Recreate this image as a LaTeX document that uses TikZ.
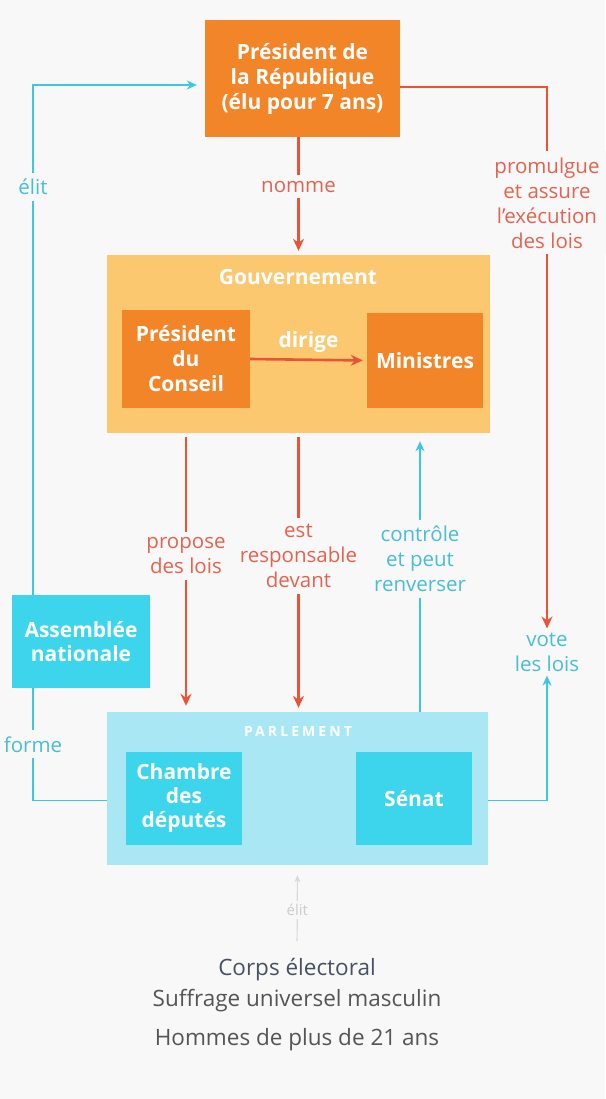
\documentclass[tikz,border=0pt]{standalone}
\usepackage{fontspec}
\setmainfont{Open Sans}
\usepackage{xcolor}
\usetikzlibrary{shapes,arrows.meta,positioning,calc}

\definecolor{pagebg}{RGB}{248,248,248}
\definecolor{orangebox}{RGB}{242,133,40}
\definecolor{govfill}{RGB}{251,200,112}
\definecolor{redline}{RGB}{234,84,54}
\definecolor{redtext}{RGB}{226,100,80}
\definecolor{cyanline}{RGB}{60,200,225}
\definecolor{cyantext}{RGB}{72,190,212}
\definecolor{parlfill}{RGB}{170,231,244}
\definecolor{cyanbox}{RGB}{60,213,235}
\definecolor{graytext}{RGB}{85,85,85}
\definecolor{corpstext}{RGB}{70,82,98}

\tikzset{
  orgbox/.style={fill=orangebox, text=white, font=\fontsize{21}{25}\selectfont\bfseries, align=center},
  cyabox/.style={fill=cyanbox, text=white, font=\fontsize{21}{24}\selectfont\bfseries, align=center},
  titletxt/.style={text=white, font=\fontsize{21}{24}\selectfont\bfseries},
  redlabel/.style={text=redtext, fill=pagebg, font=\fontsize{20.5}{25}\selectfont, align=center, inner sep=6pt},
  cyalabel/.style={text=cyantext, fill=pagebg, font=\fontsize{20.5}{25}\selectfont, align=center, inner sep=6pt},
  redarrow/.style={draw=redline, line width=2.6pt, -{Stealth[length=12pt,width=11pt]}},
  cyaarrow/.style={draw=cyanline, line width=1.8pt, -{Stealth[length=10pt,width=9pt]}},
  cyaline/.style={draw=cyanline, line width=1.8pt},
  graytxt/.style={text=graytext, font=\fontsize{22.5}{26}\selectfont}
}

\begin{document}
\begin{tikzpicture}[x=1pt,y=-1pt]
% Background
\fill[pagebg] (0,0) rectangle (605,1099);
\useasboundingbox (0,0) rectangle (605,1099);

% President de la Republique
\node[orgbox, minimum width=195pt, minimum height=117pt] (pres) at (302.5,78.5) {Président de\\la République\\(élu pour 7 ans)};

% Gouvernement
\node[fill=govfill, minimum width=383pt, minimum height=178pt] (gouv) at (298.5,344) {};
\node[titletxt] (gouvtitle) at (298,277) {Gouvernement};
\node[orgbox, minimum width=128pt, minimum height=98pt] (pdc) at (186,359) {Président\\du\\Conseil};
\node[orgbox, minimum width=116pt, minimum height=95pt] (min) at (425,360.5) {Ministres};
\draw[redarrow, shorten >=4pt] (pdc.east) -- node[titletxt, above=3pt] (dirige) {dirige} (min.west);

% Parlement
\node[fill=parlfill, minimum width=381pt, minimum height=153pt] (parl) at (297.5,788.5) {};
\node[titletxt, font=\fontsize{14}{16}\selectfont\bfseries\addfontfeature{LetterSpace=22}] (parltitle) at (298,731) {PARLEMENT};
\node[cyabox, minimum width=116pt, minimum height=93pt] (chambre) at (184,798.5) {Chambre\\des\\députés};
\node[cyabox, minimum width=116pt, minimum height=93pt] (senat) at (414,798.5) {Sénat};

% Assemblee nationale
\node[cyabox, minimum width=138pt, minimum height=93pt] (an) at (81,641.5) {Assemblée\\nationale};

% Vote les lois
\node[cyalabel, inner sep=4pt] (vote) at (547,652) {vote\\les lois};

% nomme
\draw[redarrow, shorten >=4pt] (pres.south -| gouv.north) -- node[redlabel, pos=0.42] {nomme} (gouv.north);

% Gouvernement -> Parlement
\draw[redarrow, shorten <=4pt, shorten >=6pt] (gouv.south -| pdc) -- node[redlabel, pos=0.44] {propose\\des lois} (parl.north -| pdc);
\draw[redarrow, shorten <=4pt, shorten >=4pt] (gouv.south) -- node[redlabel, pos=0.44] {est\\responsable\\devant} (parl.north -| gouv.south);

% Parlement -> Gouvernement
\draw[cyaarrow, shorten >=8pt] ([xshift=-5pt]min.south |- parl.north) -- node[cyalabel, pos=0.55] {contrôle\\et peut\\renverser} ([xshift=-5pt]min.south |- gouv.south);

% promulgue
\draw[redarrow] ([yshift=-8.5pt]pres.east) -| node[redlabel, pos=0.607] {promulgue\\et assure\\l’exécution\\des lois} (vote.north);
\draw[cyaarrow] ([yshift=-12pt]parl.east) -| (vote.south);

% forme / elit
\draw[cyaline] ([yshift=-12pt]parl.west) -| node[cyalabel, pos=0.75] {forme} ([xshift=-48pt]an.south);
\draw[cyaarrow, shorten >=8pt] ([xshift=-48pt]an.north) |- node[cyalabel, pos=0.4] {élit} ([yshift=-6.5pt]pres.west);

% Corps electoral
\node[graytxt, text=corpstext] (corps) at (297,970) {Corps électoral};
\node[graytxt] (suff) at (297,1001) {Suffrage universel masculin};
\node[graytxt] (hommes) at (297,1040) {Hommes de plus de 21 ans};
\draw[draw=black!15, line width=1.2pt, -{Stealth[length=7pt,width=6pt]}, shorten <=14pt, shorten >=10pt] (corps.north) -- node[text=black!20, fill=pagebg, font=\fontsize{15}{17}\selectfont] {élit} (parl.south);
\end{tikzpicture}
\end{document}
